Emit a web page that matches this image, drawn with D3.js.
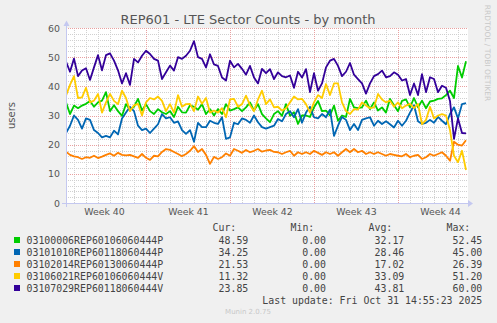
<!DOCTYPE html>
<meta charset="utf-8">
<style>
  body { margin: 0; background: #f0f0f0; }
  text { font-family: "DejaVu Sans", sans-serif; }
  .mono { font-family: "DejaVu Sans Mono", monospace; font-size: 9.9px; fill: #444; }
</style>
<body>
<script src="https://d3js.org/d3.v7.min.js"></script>
<script>

var width = 497,
    height = 323;

// legend names + stats (Cur, Min, Avg, Max)
var names = ["03100006REP60106060444P", "03101010REP60118060444P", "03102014REP60130060444P",
             "03106021REP60106060444V", "03107029REP60118060444V"];
var colors = ["#00cc00", "#0066b3", "#ff8000", "#ffcc00", "#330099"];
var cur = ["48.59", "34.25", "21.53", "11.32", "23.85"];
var min = ["0.00", "0.00", "0.00", "0.00", "0.00"];
var avg = ["32.17", "28.46", "17.02", "33.09", "43.81"];
var max = ["52.45", "45.00", "26.39", "51.20", "60.00"];

var yTicks = [0, 10, 20, 30, 40, 50, 60];
var weekLabels = ["Week 40", "Week 41", "Week 42", "Week 43", "Week 44"];

// samples every 8 hours from Sep 29 08:00
var green = [34.5,30.5,33.4,32.5,33.4,34.0,35.0,33.0,34.5,35.1,38.0,31.5,33.5,31.5,29.9,33.9,32.0,
  33.0,35.7,31.7,33.9,31.5,30.5,32.2,31.1,30.5,31.5,29.5,33.0,31.1,31.0,33.5,33.0,32.0,
  33.9,30.5,32.2,30.0,32.2,30.5,33.9,31.7,32.2,32.8,31.5,32.8,34.5,31.7,33.9,30.5,29.0,
  27.7,30.5,31.5,29.9,33.9,29.9,31.1,27.1,30.0,30.0,29.5,32.8,35.0,31.5,31.7,30.0,33.4,
  28.2,30.0,29.5,35.7,32.8,32.5,32.8,35.1,32.2,34.5,31.7,32.8,31.0,35.7,33.5,31.5,35.0,
  35.5,32.8,36.0,32.8,35.1,32.5,34.8,35.1,35.7,35.9,37.0,38.5,36.0,47.0,43.0,48.59];
var blue = [24.0,26.5,30.0,28.5,25.5,29.0,28.5,25.0,24.0,22.5,23.0,22.5,24.8,23.5,29.0,31.0,33.0,
  31.5,26.5,25.0,25.5,24.0,25.5,27.0,30.5,29.0,29.4,27.5,28.0,25.0,23.7,25.0,21.0,27.5,
  26.0,26.0,28.2,27.5,27.1,29.4,22.0,22.5,27.5,27.0,29.0,28.5,27.5,30.0,27.7,26.0,25.5,
  26.0,26.5,28.8,28.0,30.5,31.5,29.4,32.2,27.5,31.0,33.0,29.4,29.0,30.5,29.4,32.0,23.0,
  26.5,29.5,28.5,25.0,27.1,25.0,28.5,29.0,29.4,26.5,28.2,27.1,28.0,27.0,25.9,28.2,26.5,
  28.2,31.0,33.5,28.0,27.1,27.5,28.5,27.5,29.5,28.2,27.0,30.5,32.8,29.0,33.9,34.25];
var orange = [17.6,16.5,16.0,15.7,15.1,15.7,15.5,16.2,15.4,15.9,16.5,17.0,16.2,17.2,16.5,16.3,16.5,
  16.0,15.5,16.8,15.5,14.8,16.2,16.0,17.5,18.5,18.2,17.5,16.8,16.0,16.8,17.9,19.5,17.5,
  18.5,16.5,13.4,15.8,15.1,15.7,17.0,16.2,18.5,17.9,17.2,18.2,17.4,17.9,18.5,17.6,18.0,
  18.2,17.5,17.4,16.8,17.4,17.9,16.2,17.4,16.8,17.4,16.8,17.9,17.2,16.5,17.4,16.8,17.4,
  16.2,17.4,18.5,17.4,18.5,17.4,17.9,16.8,17.4,16.8,17.4,16.8,16.2,16.8,16.5,16.2,16.0,
  16.8,15.7,16.2,16.5,15.1,15.7,16.8,16.2,16.8,17.4,16.2,14.5,21.0,20.0,19.7,21.53];
var yellow = [36.8,40.5,43.5,36.0,36.2,39.5,34.5,35.1,37.4,31.0,34.5,37.4,35.0,33.9,38.5,36.0,31.5,
  33.5,34.0,30.0,34.5,36.0,35.5,36.5,35.0,31.5,33.9,31.0,37.0,33.0,33.9,34.0,31.5,36.5,
  34.0,36.0,31.0,31.7,31.0,32.5,29.4,35.5,35.7,33.0,33.9,36.8,33.5,31.5,35.5,38.5,33.9,
  35.5,32.8,33.0,31.7,32.5,34.5,36.5,35.5,35.7,33.9,31.0,34.5,37.0,36.0,40.8,37.0,41.0,
  41.0,34.5,31.5,30.5,32.2,32.0,34.5,33.4,32.5,32.8,37.4,35.5,34.5,35.1,33.0,34.5,32.5,
  33.4,34.0,32.5,34.0,27.0,28.5,33.0,29.0,30.0,30.5,30.0,25.0,16.2,14.0,17.9,11.32];
var purple = [48.5,45.0,49.5,43.5,45.4,46.2,42.2,46.5,50.7,45.5,50.7,51.3,48.8,45.5,41.0,44.5,40.5,
  49.4,48.2,50.5,52.2,51.1,49.4,48.8,42.5,44.8,47.1,45.4,50.0,49.4,50.5,52.2,55.5,50.0,
  49.4,46.5,51.0,47.5,47.0,43.0,42.0,48.8,46.5,47.7,46.0,44.0,47.0,43.0,41.0,46.0,44.5,
  45.9,42.5,44.8,43.5,43.1,43.7,39.5,45.0,43.0,45.9,38.0,44.5,38.5,41.0,46.5,48.8,49.4,
  47.0,43.5,45.0,48.0,44.0,42.5,41.0,37.5,41.0,43.5,44.2,45.4,43.1,43.5,44.8,44.0,42.0,
  42.5,37.0,41.0,37.0,44.2,38.0,43.1,42.5,38.0,40.2,39.5,35.0,22.0,29.0,24.0,23.85];

var series = [green, blue, orange, yellow, purple];

var HOUR = 3600e3;
var start = Date.UTC(2025, 8, 29, 8),
    end = start + 33.5 * 24 * HOUR;

var x = d3.scaleUtc().domain([start, end]).range([66, 468]);
var y = d3.scaleLinear().domain([0, 60]).range([203, 28]);

var times = d3.range(green.length).map(function(i) { return new Date(start + i * 8 * HOUR); });

var svg = d3.select("body").append("svg")
    .attr("width", width)
    .attr("height", height);

svg.append("rect").attr("width", width).attr("height", height).attr("fill", "#f0f0f0");
svg.append("rect").attr("x", 66).attr("y", 28).attr("width", 402).attr("height", 175).attr("fill", "#fff");

// grid
var grid = svg.append("g").attr("shape-rendering", "crispEdges");
var minorY = d3.range(0, 61, 2).filter(function(v) { return v % 10; });
grid.selectAll(".my").data(minorY).enter().append("line")
    .attr("x1", 66).attr("x2", 468)
    .attr("y1", function(d) { return Math.round(y(d)) + 0.5; })
    .attr("y2", function(d) { return Math.round(y(d)) + 0.5; })
    .attr("stroke", "#d0d0d0").attr("stroke-dasharray", "1,1");
grid.selectAll(".mx").data(d3.utcDay.range(new Date(start), new Date(end))).enter().append("line")
    .attr("x1", function(d) { return Math.round(x(d)) + 0.5; })
    .attr("x2", function(d) { return Math.round(x(d)) + 0.5; })
    .attr("y1", 28).attr("y2", 203)
    .attr("stroke", "#d0d0d0").attr("stroke-dasharray", "1,1");
grid.selectAll(".My").data(yTicks.slice(1)).enter().append("line")
    .attr("x1", 66).attr("x2", 468)
    .attr("y1", function(d) { return Math.round(y(d)) + 0.5; })
    .attr("y2", function(d) { return Math.round(y(d)) + 0.5; })
    .attr("stroke", "#e8a0a0").attr("stroke-dasharray", "1,1");
grid.selectAll(".Mx").data(d3.utcMonday.range(new Date(start), new Date(end))).enter().append("line")
    .attr("x1", function(d) { return Math.round(x(d)) + 0.5; })
    .attr("x2", function(d) { return Math.round(x(d)) + 0.5; })
    .attr("y1", 28).attr("y2", 203)
    .attr("stroke", "#e8a0a0").attr("stroke-dasharray", "1,1");

// lines
svg.append("clipPath").attr("id", "clip").append("rect")
    .attr("x", 66).attr("y", 28).attr("width", 402).attr("height", 175);

var line = d3.line()
    .x(function(d, i) { return x(times[i]); })
    .y(function(d) { return y(d); });

svg.append("g").attr("clip-path", "url(#clip)")
  .selectAll("path").data(series).enter().append("path")
    .attr("d", line)
    .attr("fill", "none")
    .attr("stroke", function(d, i) { return colors[i]; })
    .attr("stroke-width", 1.8)
    .attr("stroke-linejoin", "round");

// axes
var axisCol = "#c4c8f0";
svg.append("line").attr("x1", 62).attr("x2", 469).attr("y1", 203.5).attr("y2", 203.5).attr("stroke", axisCol);
svg.append("line").attr("x1", 66.5).attr("x2", 66.5).attr("y1", 207).attr("y2", 24).attr("stroke", axisCol);
svg.append("path").attr("d", "M468,200L473,203.5L468,207Z").attr("fill", axisCol);
svg.append("path").attr("d", "M63.5,26L66.5,20.5L69.5,26Z").attr("fill", axisCol);

var yAxis = svg.append("g")
    .attr("transform", "translate(63,0)")
    .call(d3.axisLeft(y).tickValues(yTicks).tickSize(0).tickPadding(3));
yAxis.select(".domain").remove();
yAxis.selectAll("text").attr("font-family", "DejaVu Sans").attr("font-size", "9.4px").attr("fill", "#555");

var weekMid = d3.utcMonday.range(new Date(start - 7 * 24 * HOUR), new Date(end))
    .map(function(d) { return new Date(+d + 3.5 * 24 * HOUR); })
    .filter(function(d) { return d > start && d < end; });
var xAxis = svg.append("g")
    .attr("transform", "translate(0,206)")
    .call(d3.axisBottom(x).tickValues(weekMid).tickSize(0).tickPadding(2)
      .tickFormat(function(d, i) { return weekLabels[i]; }));
xAxis.select(".domain").remove();
xAxis.selectAll("text").attr("font-family", "DejaVu Sans").attr("font-size", "9.4px").attr("fill", "#555");

// titles
svg.append("text").attr("x", 248).attr("y", 24).attr("text-anchor", "middle")
    .attr("font-size", "13px").attr("fill", "#555")
    .text("REP601 - LTE Sector Counts - by month");
svg.append("text").attr("transform", "translate(15,115.5) rotate(-90)").attr("text-anchor", "middle")
    .attr("font-size", "10px").attr("fill", "#555").text("users");
svg.append("text").attr("transform", "translate(485,53) rotate(90)").attr("text-anchor", "middle")
    .attr("font-size", "7.5px").attr("fill", "#c8c8c8").text("RRDTOOL / TOBI OETIKER");

// legend
var leg = svg.append("g");
leg.append("text").attr("class", "mono").attr("x", 212.5).attr("y", 231).text("Cur:");
leg.append("text").attr("class", "mono").attr("x", 290.5).attr("y", 231).text("Min:");
leg.append("text").attr("class", "mono").attr("x", 368.5).attr("y", 231).text("Avg:");
leg.append("text").attr("class", "mono").attr("x", 446.5).attr("y", 231).text("Max:");

var rows = leg.selectAll(".row").data(names).enter().append("g")
    .attr("transform", function(d, i) { return "translate(0," + (240 + i * 12) + ")"; });
rows.append("rect").attr("x", 14).attr("y", -3).attr("width", 6).attr("height", 6)
    .attr("fill", function(d, i) { return colors[i]; });
rows.append("text").attr("class", "mono").attr("x", 26.5).attr("y", 3.5).text(function(d) { return d; });
[[cur, 248.3], [min, 326], [avg, 404.3], [max, 482.3]].forEach(function(c) {
  rows.append("text").attr("class", "mono").attr("x", c[1]).attr("y", 3.5)
      .attr("text-anchor", "end").text(function(d, i) { return c[0][i]; });
});

leg.append("text").attr("class", "mono").attr("x", 482.3).attr("y", 303.5).attr("text-anchor", "end")
    .text("Last update: Fri Oct 31 14:55:23 2025");
svg.append("text").attr("x", 248).attr("y", 314).attr("text-anchor", "middle")
    .attr("font-size", "7px").attr("fill", "#c8c8c8").text("Munin 2.0.75");

</script>
</body>
